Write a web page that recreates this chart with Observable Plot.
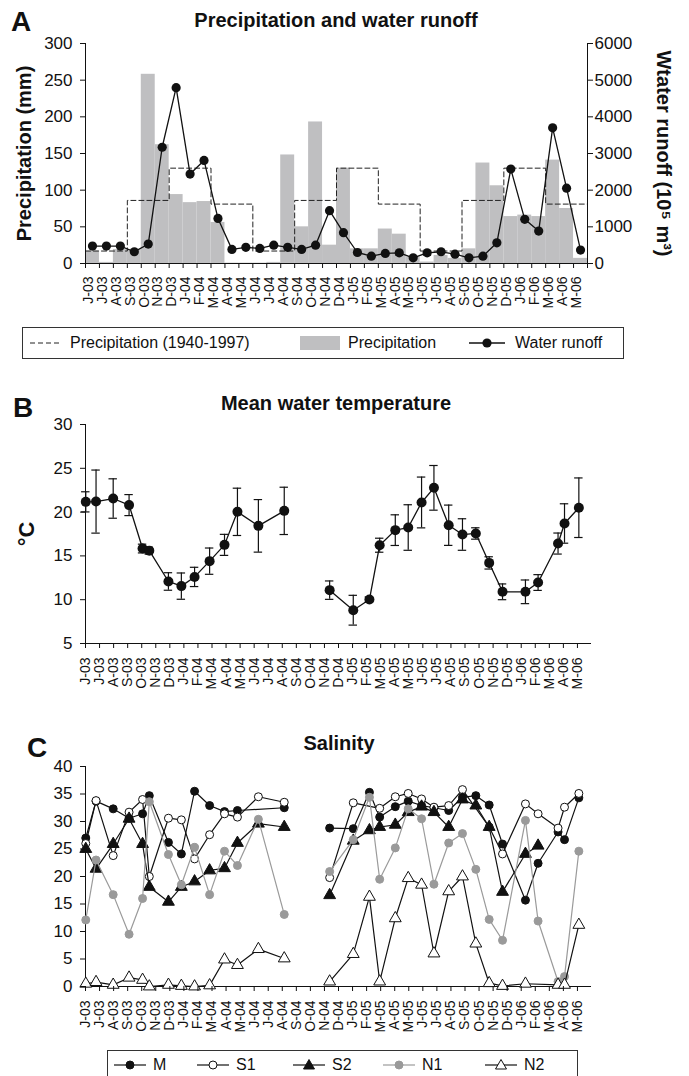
<!DOCTYPE html>
<html><head><meta charset="utf-8">
<script src="https://cdn.jsdelivr.net/npm/d3@7"></script>
<script src="https://cdn.jsdelivr.net/npm/@observablehq/plot@0.6"></script>
<style>
body{margin:0;background:#fff;}
#wrap{position:relative;width:689px;height:1076px;font-family:"Liberation Sans",Arial,sans-serif;color:#111;overflow:hidden;background:#fff;}
.panel{position:absolute;left:0;}
.title{position:absolute;font-weight:bold;font-size:20px;white-space:nowrap;transform:translateX(-50%);line-height:1;}
.letter{position:absolute;font-weight:bold;font-size:28px;line-height:1;}
.legend{position:absolute;border:1px solid #333;box-sizing:border-box;background:#fff;}
.legend .it{position:absolute;top:0;height:100%;display:flex;align-items:center;font-size:16px;white-space:nowrap;}
</style></head><body><div id="wrap"></div>
<script>
// ---------- DATA ----------
const monthLabels = ["J-03","J-03","A-03","S-03","O-03","N-03","D-03","J-04","F-04","M-04","A-04","M-04","J-04","J-04","A-04","S-04","O-04","N-04","D-04","J-05","F-05","M-05","A-05","M-05","J-05","J-05","A-05","S-05","O-05","N-05","D-05","J-06","F-06","M-06","A-06","M-06"];
// monthly precipitation (mm)
const precipitation = [17, 1.5, 19, 19, 258, 162, 94, 83, 84.5, 56, 0.5, 0.5, 0.5, 1.5, 148, 50, 193, 25, 130, 20, 20, 47, 40, 9, 2, 11, 7, 20, 137, 106, 64, 66, 64, 141, 75, 7];
// monthly water runoff (10^5 m3)
const runoff = [475, 475, 475, 320, 530, 3170, 4795, 2440, 2810, 1230, 385, 440, 410, 500, 440, 385, 500, 1440, 840, 300, 200, 275, 290, 155, 290, 320, 255, 155, 200, 565, 2575, 1205, 885, 3700, 2055, 365];
// long-term seasonal precipitation 1940-1997 (mm): summer, autumn, winter, spring
const longTermSeasonal = [17, 86, 130, 81];
// sampling dates, in months since June 2003
const sampleMonth = [0.02, 0.75, 1.97, 3.1, 4.06, 4.54, 5.9, 6.82, 7.76, 8.83, 9.89, 10.81, 12.3, 14.14, 17.37, 19.05, 20.2, 20.93, 22.04, 22.96, 23.91, 24.79, 25.84, 26.82, 27.77, 28.72, 29.67, 31.3, 32.2, 33.62, 34.08, 35.1];
// mean water temperature (°C) and its error
const tempMean = [21.17, 21.2, 21.55, 20.8, 15.84, 15.6, 12.08, 11.55, 12.6, 14.4, 16.26, 20.03, 18.43, 20.14, 11.09, 8.8, 10.02, 16.22, 17.94, 18.24, 21.1, 22.77, 18.5, 17.44, 17.56, 14.2, 10.9, 10.9, 11.96, 16.41, 18.7, 20.5];
const tempErr = [1.15, 3.6, 2.25, 1.2, 0.5, 0.4, 1.0, 1.5, 1.1, 1.5, 1.2, 2.7, 3.0, 2.7, 1.05, 1.7, 0.3, 0.8, 1.75, 2.6, 2.9, 2.55, 2.3, 1.8, 0.65, 0.7, 0.9, 1.35, 0.9, 1.2, 2.25, 3.4];
// salinity per station
const salM  = [27.0, 33.7, 32.3, 30.6, 31.4, 34.7, 26.2, 24.1, 35.5, 32.9, 31.8, 32.0, null, 32.5, 28.8, 28.7, 35.3, 30.8, 32.7, 33.7, 32.9, 32.5, 32.0, 34.4, 34.7, 33.0, 25.9, 15.7, 22.4, 28.1, 26.7, 34.3];
const salS1 = [26.0, 33.8, 23.8, 31.7, 34.0, 20.0, 30.6, 30.3, 23.2, 27.6, 31.4, 30.8, 34.5, 33.5, 19.8, 33.4, null, 32.4, 34.5, 35.1, 34.1, 32.6, 32.9, 35.8, null, 29.0, 24.1, 33.2, 31.4, 28.8, 32.6, 35.1];
const salS2 = [25.0, 21.4, 25.9, 30.5, 25.9, 18.1, 15.4, 18.1, 19.1, 21.1, 21.5, 26.1, 29.6, 29.0, 16.6, 26.5, 28.4, 29.0, 29.4, 31.7, 32.7, 31.7, 29.0, 34.0, 32.9, 29.0, 17.2, 24.1, 25.6, null, null, null];
const salN1 = [12.1, 23.0, 16.7, 9.5, 16.0, 33.6, 24.0, 18.5, 25.3, 16.7, 24.6, 22.0, 30.4, 13.1, 20.9, 26.7, 34.4, 19.5, 25.2, 32.3, 30.5, 18.6, 26.1, 27.8, 21.3, 12.2, 8.4, 30.2, 11.9, 0.9, 1.8, 24.6];
const salN2 = [0.5, 0.8, 0.3, 1.6, 1.2, 0.0, 0.3, 0.1, 0.0, 0.2, 4.9, 3.9, 6.8, 5.1, 0.9, 5.9, 16.3, 0.9, 12.4, 19.7, 18.5, 6.0, 17.3, 20.0, 7.8, 0.6, 0.1, 0.5, null, 0.3, 0.3, 11.2];
const stationNames = ["M", "S1", "S2", "N1", "N2"];

// ---------- LAYOUT ----------
const wrap = document.getElementById("wrap");
const FONT = "'Liberation Sans', Arial, sans-serif";
const INK = "#111";
function place(el, top) { el.classList.add("panel"); el.style.top = top + "px"; wrap.appendChild(el); }
function addDiv(cls, text, left, top) { const d = document.createElement("div"); d.className = cls; d.textContent = text; d.style.left = left + "px"; d.style.top = top + "px"; wrap.appendChild(d); return d; }

// ---------- PANEL A ----------
const precipData = precipitation.map((v, i) => ({i, v}));
const runoffData = runoff.map((v, i) => ({x: i + 0.5, v: v / 20}));
const seasonData = d3.range(13).map(k => ({x: k * 3, v: longTermSeasonal[Math.min(k, 11) % 4]}));

const chartA = Plot.plot({
  width: 689, height: 320, marginLeft: 85, marginRight: 102, marginTop: 43, marginBottom: 57,
  style: {fontFamily: FONT, fontSize: "16px", color: INK, overflow: "visible"},
  x: {domain: [0, 36], axis: null},
  y: {domain: [0, 300], axis: null},
  marks: [
    Plot.rect(precipData, {x1: "i", x2: d => d.i + 1, y1: 0, y2: "v", fill: "#bfbfc1"}),
    Plot.line(seasonData, {x: "x", y: "v", curve: "step-after", stroke: "#222", strokeWidth: 1, strokeDasharray: "5,3"}),
    Plot.line(runoffData, {x: "x", y: "v", stroke: INK, strokeWidth: 1.3}),
    Plot.dot(runoffData, {x: "x", y: "v", r: 4.6, fill: INK}),
    Plot.ruleX([0], {stroke: INK}), Plot.ruleX([36], {stroke: INK}), Plot.ruleY([0], {stroke: INK}),
    Plot.axisY(d3.range(0, 301, 50), {anchor: "left", tickSize: 5, tickPadding: 8, label: null, fontSize: 17}),
    Plot.axisY(d3.range(0, 301, 50), {anchor: "right", tickSize: 5, tickPadding: 2, tickFormat: d => String(d * 20), label: null, fontSize: 17}),
    Plot.axisX(d3.range(0, 37), {tickSize: 5, tickFormat: () => "", label: null}),
    Plot.axisX(d3.range(36).map(i => i + 0.2), {tickSize: 0, tickPadding: 13, tickRotate: -90, tickFormat: d => monthLabels[Math.round(d - 0.2)], label: null, fontSize: 14}),
    Plot.text(["Precipitation (mm)"], {text: d => d, frameAnchor: "left", textAnchor: "middle", dx: -61, rotate: -90, fontWeight: "bold", fontSize: 20}),
    Plot.text(["Wtater runoff (10⁵ m³)"], {text: d => d, frameAnchor: "right", textAnchor: "middle", dx: 76, rotate: 90, fontWeight: "bold", fontSize: 20})
  ]
});
place(chartA, 0);
addDiv("letter", "A", 11, 8);
addDiv("title", "Precipitation and water runoff", 336, 10);

// legend A
function svgSwatch(w, h, inner) { return `<svg width="${w}" height="${h}" style="display:block">${inner}</svg>`; }
function legend(left, top, width, height, items) {
  const box = document.createElement("div"); box.className = "legend";
  Object.assign(box.style, {left: left + "px", top: top + "px", width: width + "px", height: height + "px"});
  for (const it of items) {
    const s = document.createElement("div"); s.className = "it"; s.style.left = it.x + "px"; s.innerHTML = it.html; box.appendChild(s);
  }
  wrap.appendChild(box);
}
legend(22, 327, 602, 32, [
  {x: 7, html: svgSwatch(30, 10, `<line x1="0" y1="5" x2="30" y2="5" stroke="#222" stroke-dasharray="5,3"/>`)},
  {x: 47, html: "Precipitation (1940-1997)"},
  {x: 277, html: svgSwatch(40, 14, `<rect x="0" y="0" width="40" height="14" fill="#bfbfc1"/>`)},
  {x: 325, html: "Precipitation"},
  {x: 446, html: svgSwatch(36, 12, `<line x1="0" y1="6" x2="36" y2="6" stroke="${INK}" stroke-width="1.3"/><circle cx="18" cy="6" r="4.6" fill="${INK}"/>`)},
  {x: 492, html: "Water runoff"}
]);

// ---------- PANEL B ----------
const tempData = sampleMonth.map((t, i) => ({t, v: tempMean[i], e: tempErr[i], seg: t > 16 ? 1 : 0}));
const chartB = Plot.plot({
  width: 689, height: 320, marginLeft: 85, marginRight: 98, marginTop: 44, marginBottom: 57,
  style: {fontFamily: FONT, fontSize: "16px", color: INK, overflow: "visible"},
  x: {domain: [0, 36], axis: null},
  y: {domain: [5, 30], axis: null},
  marks: [
    Plot.ruleX(tempData, {x: "t", y1: d => d.v - d.e, y2: d => d.v + d.e, stroke: INK, strokeWidth: 1.2}),
    Plot.ruleY(tempData, {y: d => d.v + d.e, x1: d => d.t - 0.3, x2: d => d.t + 0.3, stroke: INK, strokeWidth: 1.2}),
    Plot.ruleY(tempData, {y: d => d.v - d.e, x1: d => d.t - 0.3, x2: d => d.t + 0.3, stroke: INK, strokeWidth: 1.2}),
    Plot.line(tempData, {x: "t", y: "v", z: "seg", stroke: INK, strokeWidth: 1.3}),
    Plot.dot(tempData, {x: "t", y: "v", r: 5, fill: INK}),
    Plot.ruleX([0], {stroke: INK}), Plot.ruleY([5], {stroke: INK}),
    Plot.axisY([5, 10, 15, 20, 25, 30], {anchor: "left", tickSize: 5, tickPadding: 8, label: null, fontSize: 17}),
    Plot.axisX(d3.range(36), {tickSize: 5, tickPadding: 9, tickRotate: -90, tickFormat: d => monthLabels[d], label: null, fontSize: 14}),
    Plot.text(["°C"], {text: d => d, frameAnchor: "left", textAnchor: "middle", dx: -59, rotate: -90, fontWeight: "bold", fontSize: 22})
  ]
});
place(chartB, 380);
addDiv("letter", "B", 13, 394);
addDiv("title", "Mean water temperature", 336, 393);

// ---------- PANEL C ----------
const salValues = [salM, salS1, salS2, salN1, salN2];
const salStyle = [
  {symbol: "circle", fill: INK, stroke: INK, line: INK, r: 4},
  {symbol: "circle", fill: "#fff", stroke: INK, line: INK, r: 4},
  {symbol: "triangle", fill: INK, stroke: INK, line: INK, r: 4.4},
  {symbol: "circle", fill: "#9a9a9a", stroke: "#9a9a9a", line: "#9a9a9a", r: 4},
  {symbol: "triangle", fill: "#fff", stroke: INK, line: INK, r: 4.4}
];
const salMarks = [];
salValues.forEach((vals, k) => {
  const data = sampleMonth.map((t, i) => ({t, v: vals[i], seg: t > 16 ? 1 : 0, station: stationNames[k]})).filter(d => d.v != null);
  const st = salStyle[k];
  salMarks.push(Plot.line(data, {x: "t", y: "v", z: "seg", stroke: st.line, strokeWidth: 1.2}));
  salMarks.push(Plot.dot(data, {x: "t", y: "v", r: st.r, symbol: st.symbol, fill: st.fill, stroke: st.stroke, strokeWidth: 1}));
});
const chartC = Plot.plot({
  width: 689, height: 330, marginLeft: 85, marginRight: 98, marginTop: 46, marginBottom: 64,
  style: {fontFamily: FONT, fontSize: "16px", color: INK, overflow: "visible"},
  x: {domain: [0, 36], axis: null},
  y: {domain: [0, 40], axis: null},
  marks: [
    Plot.ruleX([0], {stroke: INK}), Plot.ruleY([0], {stroke: INK}),
    ...salMarks,
    Plot.axisY(d3.range(0, 41, 5), {anchor: "left", tickSize: 5, tickPadding: 8, label: null, fontSize: 17}),
    Plot.axisX(d3.range(36), {tickSize: 5, tickPadding: 9, tickRotate: -90, tickFormat: d => monthLabels[d], label: null, fontSize: 14})
  ]
});
place(chartC, 720);
addDiv("letter", "C", 27, 734);
addDiv("title", "Salinity", 339, 733);

// legend C
function symSvg(st) {
  const line = `<line x1="0" y1="7" x2="32" y2="7" stroke="${st.line}" stroke-width="1.2"/>`;
  const sym = st.symbol === "circle"
    ? `<circle cx="16" cy="7" r="${st.r}" fill="${st.fill}" stroke="${st.stroke}"/>`
    : `<path d="M16,1.5 L21.5,11 L10.5,11 Z" fill="${st.fill}" stroke="${st.stroke}"/>`;
  return svgSwatch(32, 14, line + sym);
}
const legX = [6, 89, 185, 275, 377];
const legendCItems = [];
stationNames.forEach((n, k) => {
  legendCItems.push({x: legX[k], html: symSvg(salStyle[k])});
  legendCItems.push({x: legX[k] + 39, html: n});
});
legend(107, 1050, 471, 30, legendCItems);
</script></body></html>
